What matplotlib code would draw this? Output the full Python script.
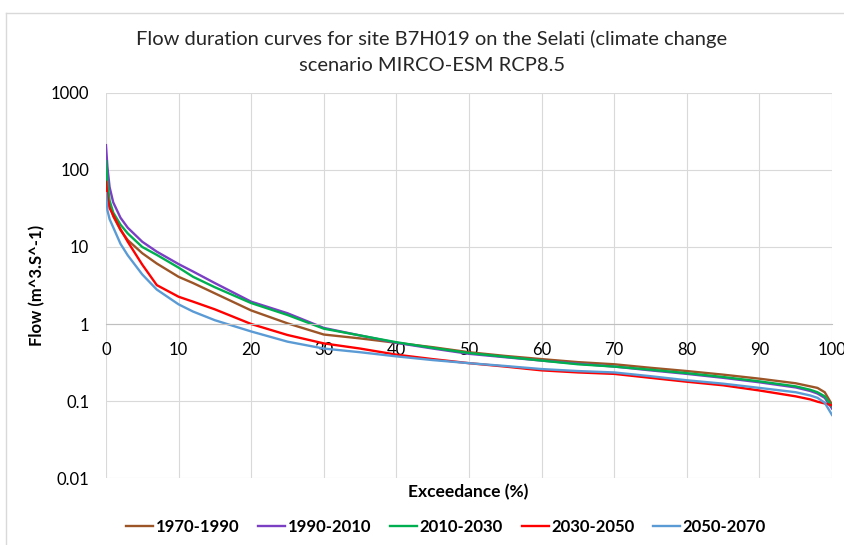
import numpy as np
import matplotlib.pyplot as plt
from matplotlib.lines import Line2D
from matplotlib.ticker import FixedLocator, FixedFormatter

plt.rcParams['font.family'] = ['Lato', 'DejaVu Sans']

# exceedance (%) sample points shared by every series
exceedance = [0, 0.2, 0.5, 1, 2, 3, 5, 7, 10, 12, 15, 20, 25, 30, 35, 40, 45, 50,
              55, 60, 65, 70, 75, 80, 85, 90, 95, 97, 98, 99, 100]

flow_1970_1990 = [110, 55, 35, 25, 16.6, 12.3, 8.3, 6.1, 4.1, 3.4, 2.5, 1.5, 1.02, 0.73, 0.65, 0.57, 0.5, 0.43,
                  0.385, 0.35, 0.32, 0.3, 0.27, 0.245, 0.22, 0.195, 0.17, 0.155, 0.148, 0.13, 0.09]
flow_1990_2010 = [210, 110, 60, 38, 24, 17.8, 11.7, 8.7, 6.0, 4.8, 3.4, 1.95, 1.38, 0.89, 0.71, 0.57, 0.48, 0.41,
                  0.37, 0.335, 0.305, 0.28, 0.25, 0.225, 0.2, 0.175, 0.15, 0.135, 0.125, 0.11, 0.08]
flow_2010_2030 = [130, 70, 40, 28, 19.5, 15, 10, 7.9, 5.4, 4.1, 3.0, 1.87, 1.31, 0.87, 0.71, 0.58, 0.49, 0.42,
                  0.375, 0.335, 0.3, 0.28, 0.255, 0.23, 0.205, 0.18, 0.155, 0.14, 0.13, 0.115, 0.085]
flow_2030_2050 = [70, 45, 32, 26, 17, 11.7, 5.9, 3.2, 2.26, 1.95, 1.55, 1.0, 0.72, 0.56, 0.48, 0.4, 0.35, 0.31,
                  0.28, 0.25, 0.235, 0.225, 0.2, 0.178, 0.16, 0.137, 0.115, 0.105, 0.098, 0.093, 0.088]
flow_2050_2070 = [50, 30, 23, 18, 11, 7.8, 4.4, 2.8, 1.8, 1.45, 1.12, 0.8, 0.59, 0.48, 0.43, 0.38, 0.34, 0.31,
                  0.285, 0.26, 0.245, 0.235, 0.21, 0.186, 0.168, 0.148, 0.13, 0.118, 0.11, 0.095, 0.066]

series = [
    ('1970-1990', flow_1970_1990, '#9C5527'),
    ('1990-2010', flow_1990_2010, '#7B3FC4'),
    ('2010-2030', flow_2010_2030, '#00B050'),
    ('2030-2050', flow_2030_2050, '#FF0000'),
    ('2050-2070', flow_2050_2070, '#5B9BD5'),
]

y_ticks = [0.01, 0.1, 1, 10, 100, 1000]
y_labels = ['0.01', '0.1', '1', '10', '100', '1000']
x_ticks = [0, 10, 20, 30, 40, 50, 60, 70, 80, 90, 100]

fig = plt.figure(figsize=(8.45, 5.45), dpi=100)
ax = fig.add_axes([0.1254, 0.1229, 0.8592, 0.7065])

for nome, valores, cor in series:
    ax.plot(exceedance, valores, color=cor, linewidth=1.7, label=nome)

ax.set_yscale('log')
ax.set_ylim(0.01, 1000)
ax.set_xlim(0, 100)
ax.yaxis.set_major_locator(FixedLocator(y_ticks))
ax.yaxis.set_major_formatter(FixedFormatter(y_labels))
ax.yaxis.set_minor_locator(FixedLocator([]))
ax.set_xticks(x_ticks)

# Excel style: horizontal axis crosses at 1
ax.spines['bottom'].set_position(('data', 1))
ax.spines['bottom'].set_color('#BFBFBF')
for lado in ['top', 'right', 'left']:
    ax.spines[lado].set_visible(False)
ax.grid(True, color='#D9D9D9', linewidth=0.8)
ax.set_axisbelow(True)
ax.tick_params(length=0, labelsize=12, colors='#000000', pad=13)
ax.tick_params(axis='y', pad=12)

ax.set_ylabel('Flow (m^3.S^-1)', fontsize=12, fontweight='bold', labelpad=4)
fig.text(0.5545, 0.097, 'Exceedance (%)', ha='center', va='center', fontsize=12.5, fontweight='bold')
fig.text(0.511, 0.905, 'Flow duration curves for site B7H019 on the Selati (climate change\nscenario MIRCO-ESM RCP8.5',
         ha='center', va='center', fontsize=14.5, linespacing=1.65, color='#262626')

fig.legend(loc='center', bbox_to_anchor=(0.528, 0.033), ncol=5, frameon=False,
           prop={'weight': 'bold', 'size': 12}, handlelength=1.6, handletextpad=0.15, columnspacing=1.15)

# moldura do gráfico
fig.add_artist(Line2D([0.0071, 0.0071], [0, 0.977], color='#D9D9D9', linewidth=1))
fig.add_artist(Line2D([0.0071, 1], [0.977, 0.977], color='#D9D9D9', linewidth=1))

plt.savefig('out.png', dpi=100)
